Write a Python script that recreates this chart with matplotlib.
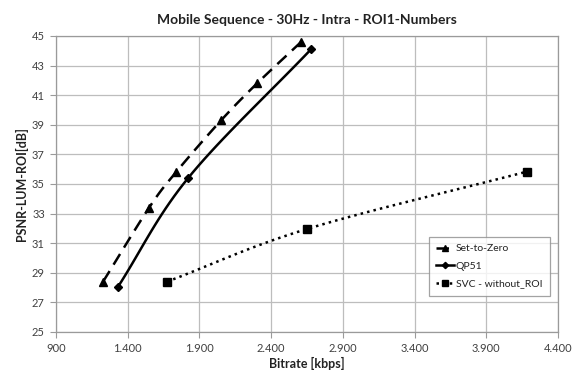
import numpy as np
import matplotlib
matplotlib.use("Agg")
import matplotlib.pyplot as plt
from matplotlib.ticker import FuncFormatter

# data
zero_rate = [1228, 1549, 1737, 2051, 2302, 2609]
zero_psnr = [28.4, 33.4, 35.8, 39.3, 41.8, 44.6]
qp_rate = [1332, 1821, 2678]
qp_psnr = [28.05, 35.4, 44.1]
svc_rate = [1674, 2650, 4185]
svc_psnr = [28.4, 31.96, 35.84]

GRID = "#bdbdbd"
TXT = "#404040"


def smooth(x, y, n=20):
    """Catmull-Rom curve through the points, like Excel's smoothed line."""
    p = np.column_stack([x, y]).astype(float)
    p = np.vstack([2 * p[0] - p[1], p, 2 * p[-1] - p[-2]])
    out = []
    t = np.linspace(0, 1, n)[:, None]
    for i in range(1, len(p) - 2):
        p0, p1, p2, p3 = p[i - 1], p[i], p[i + 1], p[i + 2]
        seg = 0.5 * ((2 * p1) + (-p0 + p2) * t
                     + (2 * p0 - 5 * p1 + 4 * p2 - p3) * t ** 2
                     + (-p0 + 3 * p1 - 3 * p2 + p3) * t ** 3)
        out.append(seg if i == 1 else seg[1:])
    c = np.vstack(out)
    return c[:, 0], c[:, 1]


plt.rcParams["font.family"] = ["Lato", "DejaVu Sans"]
fig = plt.figure(figsize=(5.75, 3.72), dpi=100)
ax = fig.add_axes([56 / 575, 1 - 332 / 372, 502 / 575, 296 / 372])

series = [
    (zero_rate, zero_psnr, (0, (5, 3)), "^", 5.5, "Set-to-Zero"),
    (qp_rate, qp_psnr, "-", "D", 4, "QP51"),
    (svc_rate, svc_psnr, ":", "s", 6, "SVC - without_ROI"),
]
for x, y, ls, mk, ms, lab in series:
    sx, sy = smooth(x, y)
    ax.plot(sx, sy, color="black", lw=1.8, ls=ls, zorder=3)
    ax.plot(x, y, ls="none", marker=mk, ms=ms, color="black", zorder=4)
    ax.plot([], [], color="black", lw=1.8, ls=ls, marker=mk, ms=ms * 0.8, label=lab)

ax.set_xlim(900, 4400)
ax.set_ylim(25, 45)
ax.set_xticks(np.arange(900, 4401, 500))
ax.set_yticks(np.arange(25, 46, 2))
ax.xaxis.set_major_formatter(FuncFormatter(
    lambda v, p: f"{int(v):,}".replace(",", ".")))
ax.grid(True, color=GRID, lw=0.9)
ax.set_axisbelow(True)
for s in ax.spines.values():
    s.set_color("#9a9a9a")
    s.set_linewidth(0.9)
ax.tick_params(length=4, color="#9a9a9a", labelsize=8, labelcolor=TXT, pad=4)

ax.set_title("Mobile Sequence - 30Hz - Intra - ROI1-Numbers",
             fontsize=10, fontweight="bold", color="#222222", pad=9)
ax.set_xlabel("Bitrate [kbps]", fontsize=9, fontweight="bold", color="#222222", labelpad=2)
ax.set_ylabel("PSNR-LUM-ROI[dB]", fontsize=9, fontweight="bold", color="#222222", labelpad=3)

leg = ax.legend(loc="lower right", bbox_to_anchor=(555 / 575, 1 - 301 / 372),
                bbox_transform=fig.transFigure, fontsize=7.5, frameon=True,
                fancybox=False, edgecolor="#8c8c8c", handlelength=1.7,
                handletextpad=0.2, borderpad=0.7, labelspacing=0.8)
leg.get_frame().set_linewidth(0.9)
for t in leg.get_texts():
    t.set_color("#222222")

fig.savefig("out.png", dpi=100)
